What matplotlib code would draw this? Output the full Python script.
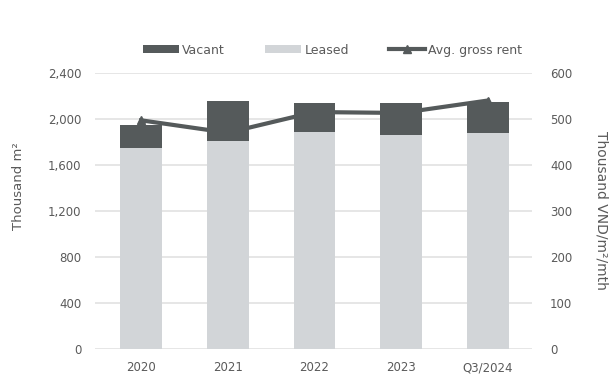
import matplotlib.pyplot as plt
import numpy as np

plt.rcParams['font.family'] = ['DejaVu Sans']

# Data
periods = ['2020', '2021', '2022', '2023', 'Q3/2024']
leased = [1750, 1810, 1885, 1860, 1875]
vacant = [198, 347, 257, 276, 276]
rent = [497, 470, 515, 513, 540]

left_ticks = [0, 400, 800, 1200, 1600, 2000, 2400]
right_ticks = [0, 100, 200, 300, 400, 500, 600]

dark = '#555a5b'
light = '#d2d5d8'
text_col = '#5a5a5a'

fig = plt.figure(figsize=(6.1, 3.76), dpi=100)
ax = fig.add_axes([0.156, 0.072, 0.716, 0.734])
ax2 = ax.twinx()

x = np.arange(len(periods))

# rent line sits behind the bars
ax2.plot(x, rent, color=dark, linewidth=3, marker='^', markersize=6,
         label='Avg. gross rent', zorder=2)
ax2.set_ylim(0, 600)
ax2.set_yticks(right_ticks)
ax2.grid(axis='y', color='#e2e2e2', linewidth=1.2)
ax2.set_axisbelow(True)

ax.set_zorder(ax2.get_zorder() + 1)
ax.patch.set_visible(False)
ax.bar(x, vacant, bottom=leased, width=0.48, color=dark, label='Vacant')
ax.bar(x, leased, width=0.48, color=light, label='Leased')
ax.set_ylim(0, 2400)
ax.set_yticks(left_ticks)
ax.set_yticklabels([f'{v:,}' for v in left_ticks])
ax.set_xlim(-0.53, 4.51)
ax.set_xticks(x)
ax.set_xticklabels(periods)

for a in (ax, ax2):
    for s in a.spines.values():
        s.set_visible(False)
    a.tick_params(length=0, labelsize=8.5, colors=text_col)
ax.tick_params(axis='y', pad=10)
ax.tick_params(axis='x', pad=9)
ax2.tick_params(axis='y', pad=13)

ax.set_ylabel('Thousand m²', fontsize=9.5, color=text_col, va='center')
ax.yaxis.set_label_coords(-0.176, 0.59)
ax2.set_ylabel('Thousand VND/m²/mth', fontsize=10, color=text_col,
               rotation=-90, va='center')
ax2.yaxis.set_label_coords(1.16, 0.5)

h1, l1 = ax.get_legend_handles_labels()
h2, l2 = ax2.get_legend_handles_labels()
fig.legend(h1 + h2, l1 + l2, loc='center', bbox_to_anchor=(0.545, 0.867),
           ncol=3, frameon=False, fontsize=9, handlelength=2.9,
           handleheight=0.6, handletextpad=0.25, columnspacing=3.2,
           labelcolor=text_col)

fig.savefig('out.png', dpi=100)
